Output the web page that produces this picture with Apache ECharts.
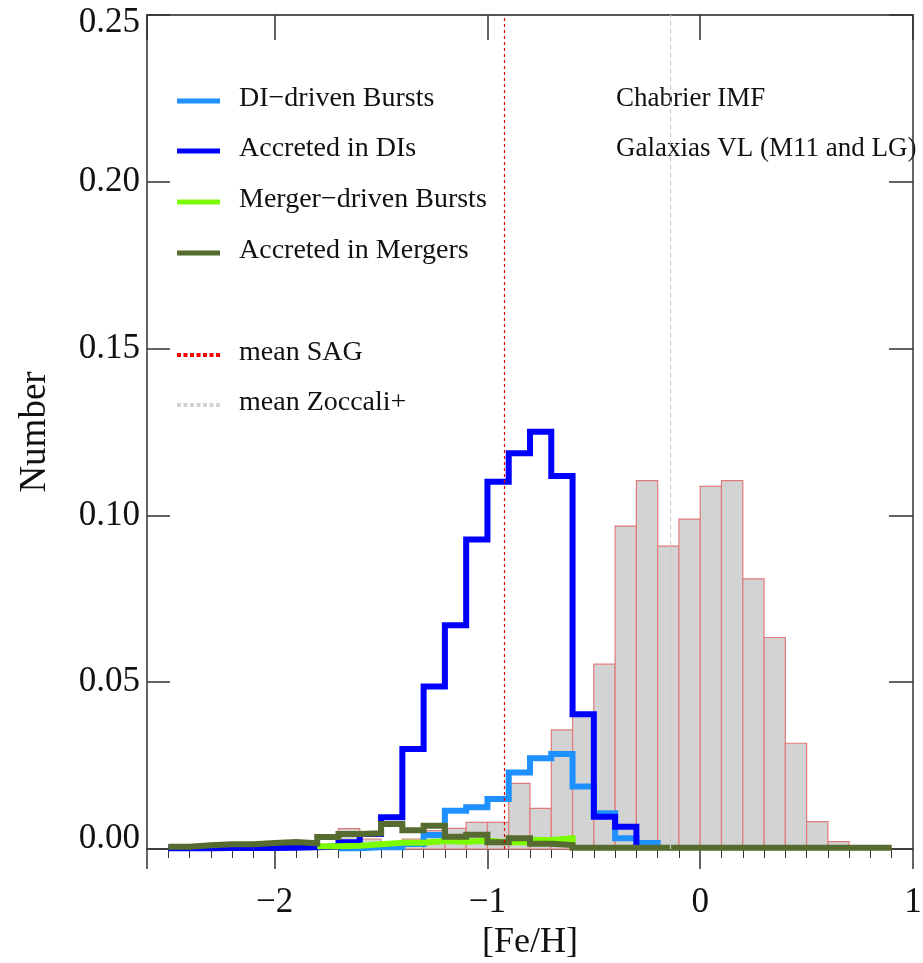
<!DOCTYPE html>
<html><head><meta charset="utf-8">
<script src="https://cdn.jsdelivr.net/npm/echarts@6/dist/echarts.min.js"></script>
<style>html,body{margin:0;padding:0;background:#fff}#c{width:923px;height:963px}</style>
</head><body><div id="c"></div>
<script>
// Bin left edges ([Fe/H]), bin width 0.1
const binLeft = [-2.5,-2.4,-2.3,-2.2,-2.1,-2.0,-1.9,-1.8,-1.7,-1.6,-1.5,-1.4,-1.3,-1.2,-1.1,-1.0,-0.9,-0.8,-0.7,-0.6,-0.5,-0.4,-0.3,-0.2,-0.1,0.0,0.1,0.2,0.3,0.4,0.5,0.6,0.7,0.8];
const binWidth = 0.1;
// Observed (Zoccali+) histogram, grey bars
const zoccali = [0,0,0,0,0,0,0,0.001,0.0061,0.003,0.002,0.003,0.0055,0.0062,0.008,0.008,0.0197,0.0122,0.0357,0.0400,0.0554,0.0968,0.1104,0.0908,0.0989,0.1087,0.1104,0.0810,0.0634,0.0317,0.0082,0.0022,0,0];
// Model components (null = not drawn)
const diBursts = [null,null,null,null,null,null,null,null,0.0002,0.0005,0.0005,0.0015,0.0042,0.0115,0.0125,0.015,0.0229,0.0272,0.0285,0.0187,0.0107,0.0032,0.0018,0,null,null,null,null,null,null,null,null,null,null];
const accretedDIs = [0.0002,0.0002,0.0003,0.0003,0.0003,0.0004,0.0005,0.0008,0.002,0.0045,0.0095,0.030,0.0487,0.0671,0.0928,0.1101,0.1186,0.1251,0.1118,0.0404,0.0097,0.0067,0,null,null,null,null,null,null,null,null,null,null,null];
const mergerBursts = [null,null,null,null,null,null,null,0.0008,0.001,0.0014,0.0019,0.0019,0.0024,0.0022,0.0025,0.002,0.002,0.0027,0.0032,0,null,null,null,null,null,null,null,null,null,null,null,null,null,null];
const accretedMergers = [0.0007,0.0011,0.0014,0.0014,0.0018,0.0021,0.0017,0.0036,0.0045,0.0047,0.0075,0.0056,0.0070,0.0037,0.0043,0.0020,0.0032,0.0016,0.0012,0.0004,0.0004,0.0004,0.0004,0.0004,0.0004,0.0004,0.0004,0.0004,0.0004,0.0004,0.0004,0.0004,0.0004,0.0004];
const meanSAG = -0.915;
const meanZoccali = -0.144;
const yTicks = [0, 0.05, 0.10, 0.15, 0.20, 0.25];

const legendItems = [
  {name:'DI\u2212driven Bursts', color:'#1e90ff', dash:null},
  {name:'Accreted in DIs', color:'#0000ff', dash:null},
  {name:'Merger\u2212driven Bursts', color:'#7cfc00', dash:null},
  {name:'Accreted in Mergers', color:'#556b2f', dash:null},
  {name:'mean SAG', color:'#ff0000', dash:[4,2.5]},
  {name:'mean Zoccali+', color:'#d3d3d3', dash:[4,2.5]}
];
const legendY = [99, 149, 200, 251, 353, 403];
const notes = ['Chabrier IMF', 'Galaxias VL (M11 and LG)'];

const FONT = '"Liberation Serif", "Times New Roman", serif';

function stepData(vals){
  const d = [];
  let last = -1;
  for (let i=0;i<vals.length;i++){
    if (vals[i] === null) continue;
    d.push([binLeft[i], vals[i]]);
    last = i;
  }
  if (last === vals.length-1 && last>=0) d.push([binLeft[last]+binWidth, vals[last]]);
  return d;
}
const barData = [];
zoccali.forEach((v,i)=>{ if(v>0) barData.push([binLeft[i], binLeft[i]+binWidth, v]); });

function stepSeries(name, vals, color){
  return {type:'line', name, step:'end', data: stepData(vals), symbol:'none', clip:false,
    lineStyle:{color, width:6, join:'miter'}, itemStyle:{color}, silent:true, animation:false};
}

const graphic = [];
legendItems.forEach((it, i)=>{
  const y = legendY[i];
  graphic.push({type:'line', shape:{x1:177, y1:y+2, x2:220, y2:y+2},
    style:{stroke:it.color, lineWidth: it.dash?4:5, lineDash: it.dash||null}});
  graphic.push({type:'text', style:{text:it.name, x:239, y:y, font:'28px '+FONT, fill:'#111', verticalAlign:'middle'}});
});
notes.forEach((t,i)=>{
  graphic.push({type:'text', style:{text:t, x:616, y:legendY[i], font:'27px '+FONT, fill:'#111', verticalAlign:'middle'}});
});

const axisColor = '#333';
const TICKFS = 35;
const option = {
  animation:false,
  backgroundColor:'#fff',
  grid:{left:147, right:10, top:15, bottom:114, containLabel:false, outerBoundsMode:'none'},
  xAxis:[{
    type:'value', min:-2.6, max:1, minInterval:1, maxInterval:1, position:'bottom',
    axisLine:{show:true, onZero:false, lineStyle:{color:axisColor, width:1.5}},
    axisTick:{show:true, inside:false, length:20, lineStyle:{color:axisColor, width:1.5}},
    minorTick:{show:true, splitNumber:10, length:9, lineStyle:{color:axisColor, width:1}},
    splitLine:{show:false},
    axisLabel:{margin:36, fontSize:TICKFS, fontFamily:FONT, color:'#111',
      formatter:function(v){ if (Math.abs(v-Math.round(v))>1e-6) return ''; return String(Math.round(v)).replace('-', '\u2212'); }},
    name:'[Fe/H]', nameLocation:'middle', nameGap:74,
    nameTextStyle:{fontSize:36, fontFamily:FONT, color:'#111'}
  },{
    type:'value', min:-2.6, max:1, minInterval:1, maxInterval:1, position:'top',
    axisLine:{show:true, onZero:false, lineStyle:{color:'#555', width:2}},
    axisTick:{show:true, inside:true, length:25, lineStyle:{color:axisColor, width:1.5}},
    axisLabel:{show:false}, splitLine:{show:false}
  }],
  yAxis:[{
    type:'value', min:yTicks[0], max:yTicks[yTicks.length-1], interval:0.05, position:'left',
    axisLine:{show:true, onZero:false, lineStyle:{color:axisColor, width:1.5}},
    axisTick:{show:true, inside:true, length:23, lineStyle:{color:axisColor, width:1.5}},
    splitLine:{show:false},
    axisLabel:{margin:7, fontSize:TICKFS, fontFamily:FONT, color:'#111',
      formatter:function(v){
        const s = v.toFixed(2);
        if (Math.abs(v - yTicks[yTicks.length-1])<1e-9) return '{top|'+s+'}';
        if (Math.abs(v - yTicks[0])<1e-9) return '{bot|'+s+'}';
        return s;
      },
      rich:{
        top:{fontSize:TICKFS, fontFamily:FONT, color:'#111', padding:[16,0,0,0]},
        bot:{fontSize:TICKFS, fontFamily:FONT, color:'#111', padding:[0,0,20,0]}
      }},
    name:'Number', nameLocation:'middle', nameGap:93,
    nameTextStyle:{fontSize:37, fontFamily:FONT, color:'#111'}
  },{
    type:'value', min:yTicks[0], max:yTicks[yTicks.length-1], interval:0.05, position:'right',
    axisLine:{show:true, onZero:false, lineStyle:{color:axisColor, width:1.5}},
    axisTick:{show:true, inside:true, length:24, lineStyle:{color:axisColor, width:1.5}},
    axisLabel:{show:false}, splitLine:{show:false}
  }],
  series:[
    {type:'custom', name:'Zoccali', data:barData, encode:{x:[0,1], y:2}, silent:true,
      renderItem:function(params, api){
        const p0 = api.coord([api.value(0), api.value(2)]);
        const p1 = api.coord([api.value(1), 0]);
        return {type:'rect', shape:{x:p0[0], y:p0[1], width:p1[0]-p0[0], height:p1[1]-p0[1]},
          style:{fill:'#d3d3d3', stroke:'#e07b7b', lineWidth:1.2}};
      },
      markLine:{symbol:'none', silent:true, label:{show:false},
        data:[
          {xAxis:meanSAG, lineStyle:{color:'#e00000', type:[3,3], width:1.2}},
          {xAxis:meanZoccali, lineStyle:{color:'#c8c8c8', type:[4,4], width:1.2}}
        ]}
    },
    stepSeries('DI\u2212driven Bursts', diBursts, '#1e90ff'),
    stepSeries('Accreted in DIs', accretedDIs, '#0000ff'),
    stepSeries('Merger\u2212driven Bursts', mergerBursts, '#7cfc00'),
    stepSeries('Accreted in Mergers', accretedMergers, '#556b2f')
  ],
  graphic: graphic
};
const chart = echarts.init(document.getElementById('c'), null, {renderer:'canvas'});
chart.setOption(option);
</script>
</body></html>
